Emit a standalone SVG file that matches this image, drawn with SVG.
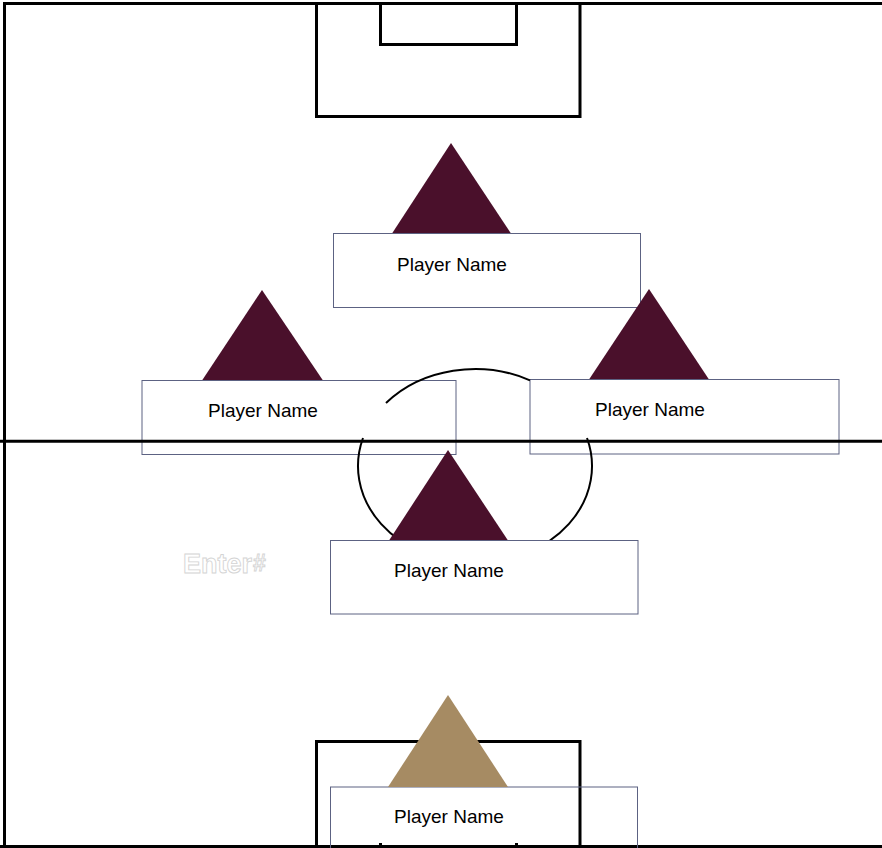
<svg xmlns="http://www.w3.org/2000/svg" width="882" height="848" viewBox="0 0 882 848">
<style>
.ln{fill:none;stroke:#000;stroke-width:3}
.arc{fill:none;stroke:#000;stroke-width:2}
.box{fill:#fff;stroke:#5c6282;stroke-width:1}
.boxo{fill:none;stroke:#5c6282;stroke-width:1}
.tri{fill:#4a102b}
.gk{fill:#a68b63}
.lbl{font-family:"Liberation Sans",Arial,sans-serif;font-size:19px;fill:#000;text-anchor:middle}
.ent{font-family:"Liberation Sans",Arial,sans-serif;font-weight:bold;fill:#fff;stroke:#d4d4d4;stroke-width:0.9}
</style>
<rect width="882" height="848" fill="#fff"/>
<g id="field">
<path class="ln" d="M4.5,848 V3.5 H882"/>
<path class="ln" d="M0,846.5 H882"/>
<path class="ln" d="M316.5,3.5 V116.5 H580 V3.5"/>
<path class="ln" d="M380.5,3.5 V44.5 H516.5 V3.5"/>
</g>
<g id="player-top">
<polygon class="tri" points="451,143 392,233.5 511,233.5"/>
<rect class="box" x="333.5" y="233.5" width="307" height="74"/>
<text class="lbl" x="452" y="271">Player Name</text>
</g>
<g id="player-left">
<polygon class="tri" points="262,290 202,380.5 323,380.5"/>
<rect class="box" x="142" y="380.5" width="314" height="74"/>
<text class="lbl" x="263" y="417">Player Name</text>
</g>
<g id="player-right">
<polygon class="tri" points="649,289 589,379.5 709,379.5"/>
<rect class="box" x="530" y="379.5" width="309" height="74.5"/>
<text class="lbl" x="650" y="416">Player Name</text>
</g>
<g id="center-circle">
<path class="arc" d="M386,403 A117,97 0 0 1 530,380.4"/>
<path class="arc" d="M363,438 A117,97 0 1 0 587,438"/>
</g>
<g id="player-center">
<polygon class="tri" points="448,450 389,540.5 508,540.5"/>
<rect class="box" x="330.5" y="540.5" width="307.5" height="73.5"/>
<text class="lbl" x="449" y="577">Player Name</text>
</g>
<g id="bottom-box">
<path class="ln" d="M316.5,848 V741.5 H580 V848"/>
<path class="ln" d="M380.5,843 V848 M516.5,843 V848"/>
</g>
<g id="goalkeeper">
<rect class="boxo" x="330.5" y="787" width="307" height="74"/>
<polygon class="gk" points="448,695 388,787 508,787"/>
<text class="lbl" x="449" y="823">Player Name</text>
</g>
<g id="midline">
<path class="ln" d="M0,441.3 H882"/>
</g>
<text class="ent" x="183" y="573" font-size="27">Enter<tspan font-size="23" dx="1" dy="-2">#</tspan></text>
</svg>
